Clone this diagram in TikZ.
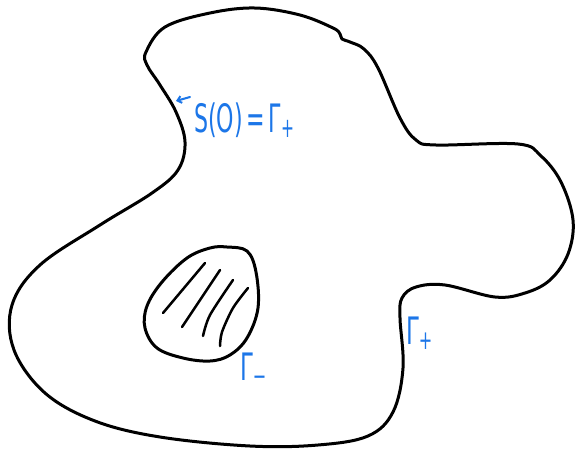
\documentclass[tikz,border=0pt]{standalone}
\usepackage{fontspec}
\setmainfont{DejaVu Sans}
\usetikzlibrary{arrows.meta}
\definecolor{pen}{RGB}{28,118,232}
\tikzset{
  outline/.style={line width=3pt, line join=round, line cap=round},
  hatchline/.style={line width=2.5pt, line cap=round},
  lbl/.style={text=pen, inner sep=0pt, font=\fontsize{27}{29}\selectfont},
}
\begin{document}
\begin{tikzpicture}[x=1pt,y=-1pt]
\useasboundingbox (0,0) rectangle (575,450);
% outer region
\draw[outline] plot[smooth cycle, tension=0.6] coordinates {
(146,52) (165,27) (210,13) (255,8) (300,15) (333,28) (340,34) (342,39) (350,42) (364,49)
(378,68) (400,118) (416,140) (436,145) (518,144) (541,156) (561,182) (573,220)
(568,254) (550,280) (525,293) (495,297) (445,285) (416,287) (402,298) (400,318)
(403,368) (393,412) (368,436) (318,445) (250,446) (160,437) (95,421)
(45,393) (14,350) (12,305) (40,265) (100,225) (152,193) (178,170) (185,142) (176,112) (160,85) (147,65)};
% inner obstacle
\draw[outline] plot[smooth cycle, tension=0.6] coordinates {
(227,247) (247,251) (256,272) (258,308) (247,338) (230,355) (210,361) (183,358) (157,348)
(145,328) (147,306) (162,282) (187,258) (210,248)};
% hatching
\draw[hatchline] (163,313) -- (205,263);
\draw[hatchline] (182,327) -- (220,270);
\draw[hatchline] plot[smooth] coordinates {(203,336) (210,315) (233,280)};
\draw[hatchline] plot[smooth] coordinates {(220,346) (222,332) (233,308) (248,288)};
% labels
\node[lbl, anchor=base west] (top) at (194,132) {\scalebox{0.82}[1.45]{S(O)\,=\,Γ\textsubscript{+}}};
\coordinate (arrtail) at (190,97);
\coordinate (arrtip) at (176,101);
\draw[pen, line width=2pt, line cap=round, -{Straight Barb[length=4pt,width=7pt]}] (arrtail) -- (arrtip);
\node[lbl, anchor=base west] (gminus) at (240,380) {\scalebox{0.85}[1.4]{Γ\textsubscript{−}}};
\node[lbl, anchor=base west] (gplus) at (406,344) {\scalebox{0.85}[1.4]{Γ\textsubscript{+}}};
\end{tikzpicture}
\end{document}
